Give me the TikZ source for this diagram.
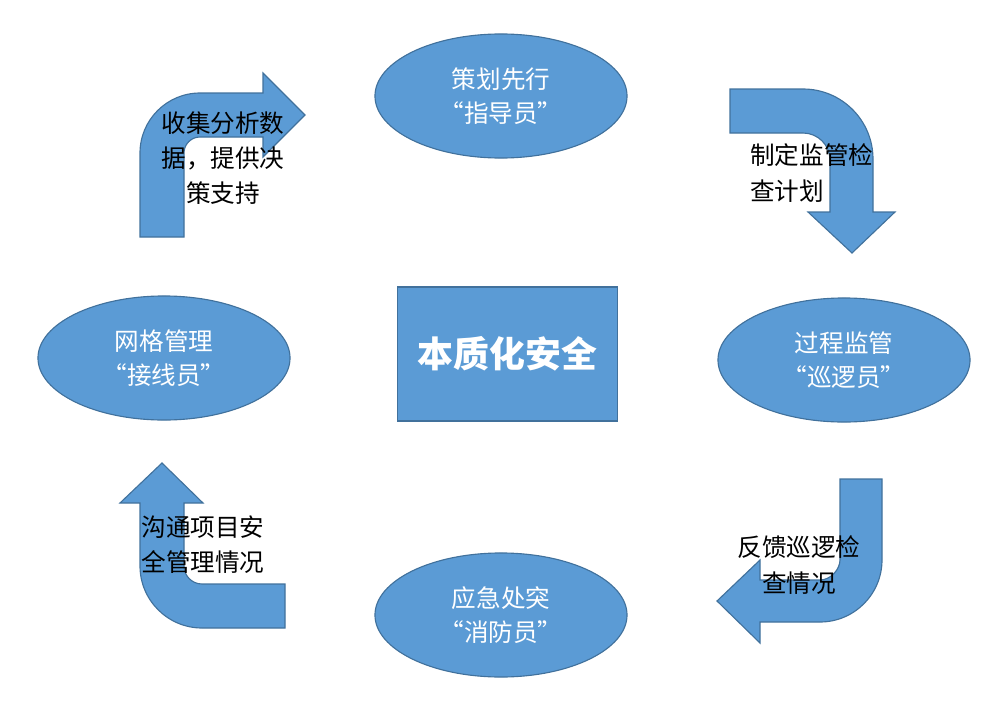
\documentclass[tikz,border=0pt]{standalone}
\usepackage{fontspec}
\setmainfont{Noto Sans CJK SC}
\usepackage{tikz}
\usetikzlibrary{shapes.geometric, positioning, calc}
\definecolor{officeblue}{RGB}{91,155,213}
\definecolor{officeedge}{RGB}{65,113,156}
\tikzstyle{role}=[ellipse, draw=officeedge, fill=officeblue, line width=0.8pt, minimum width=6.3cm, minimum height=3.1cm, inner sep=0pt, align=center, text=white, font=\fontsize{17.5}{24}\selectfont]
\tikzstyle{core}=[rectangle, draw=officeedge, fill=officeblue, line width=1.2pt, minimum width=5.5cm, minimum height=3.35cm, inner sep=0pt, text=white, font=\fontsize{25.5}{30}\selectfont\bfseries]
\tikzstyle{bent}=[draw=officeedge, fill=officeblue, line width=0.8pt, line join=miter]
\tikzstyle{note}=[inner sep=0pt, text=black, font=\fontsize{17.5}{25}\selectfont]

\begin{document}
\begin{tikzpicture}[x=0.025cm, y=-0.025cm]
        \useasboundingbox (0,0) rectangle (1008,723);

        % Draw the bent arrows
        \draw[bent] (140,237) -- (140,153) .. controls (140,119.9) and (166.9,93) .. (200,93)
            -- (263,93) -- (263,73) -- (305,115) -- (263,157) -- (263,137) -- (200,137)
            .. controls (191.2,137) and (184,144.2) .. (184,153) -- (184,237) -- cycle;
        \draw[bent] (730,89) -- (803,89) .. controls (841.7,89) and (873,120.3) .. (873,159)
            -- (873,212) -- (895,212) -- (852,253) -- (808,212) -- (830,212) -- (830,160)
            .. controls (830,145.1) and (817.9,133) .. (803,133) -- (730,133) -- cycle;
        \draw[bent] (840,479) -- (882,479) -- (882,560) .. controls (882,594.2) and (854.2,622) .. (820,622)
            -- (760,622) -- (760,643) -- (717,601) -- (760,560) -- (760,580) -- (820,580)
            .. controls (831,580) and (840,569) .. (840,560) -- cycle;
        \draw[bent] (285,584) -- (202,584) .. controls (192.1,584) and (184,575.9) .. (184,566)
            -- (184,503) -- (203,503) -- (162,463) -- (120,503) -- (140,503) -- (140,566)
            .. controls (140,600.2) and (167.8,628) .. (202,628) -- (285,628) -- cycle;

        % Draw the roles
        \node[role] (planning) at (501,96) {策划先行\\“指导员”};
        \node[role] (process monitor) at (844,360) {过程监管\\“巡逻员”};
        \node[role] (emergency) at (501,615) {应急处突\\“消防员”};
        \node[role] (grid management) at (164,358) {网格管理\\“接线员”};
        \node[core] (core safety) at (507.5,354) {本质化安全};

        % Arrow texts
        \node[note, align=center] (collect note) at (223,158) {收集分析数\\据，提供决\\策支持};
        \node[note, align=left, anchor=west] (plan note) at (750,173) {制定监管检\\查计划};
        \node[note, align=center] (feedback note) at (799,565) {反馈巡逻检\\查情况};
        \node[note, align=left] (report note) at (203,545) {沟通项目安\\全管理情况};
    \end{tikzpicture}
\end{document}
